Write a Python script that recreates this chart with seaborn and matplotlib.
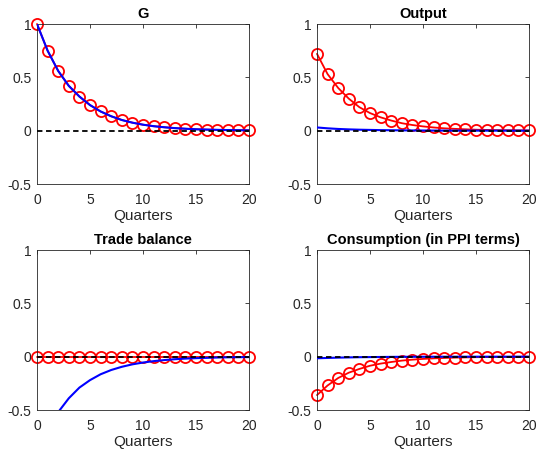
import numpy as np
import pandas as pd
import matplotlib
matplotlib.use('Agg')
import matplotlib.pyplot as plt
import seaborn as sns

sns.set_style('white')
plt.rcParams['font.family'] = ['Liberation Sans', 'DejaVu Sans']

quarters = list(range(21))

# G
g_red = [1.0, 0.75, 0.56, 0.42, 0.32, 0.24, 0.18, 0.135, 0.10, 0.075, 0.056,
         0.042, 0.032, 0.024, 0.018, 0.013, 0.010, 0.0075, 0.0056, 0.0042, 0.003]
g_blue = [1.0, 0.75, 0.56, 0.42, 0.32, 0.24, 0.18, 0.135, 0.10, 0.075, 0.056,
          0.042, 0.032, 0.024, 0.018, 0.013, 0.010, 0.0075, 0.0056, 0.0042, 0.003]

# Output
y_red = [0.72, 0.53, 0.40, 0.30, 0.22, 0.165, 0.125, 0.095, 0.07, 0.053, 0.04,
         0.03, 0.022, 0.017, 0.013, 0.009, 0.007, 0.005, 0.004, 0.003, 0.002]
y_blue = [0.03, 0.022, 0.016, 0.012, 0.009, 0.007, 0.005, 0.004, 0.003, 0.002, 0.0015,
          0.001, 0.0008, 0.0006, 0.0004, 0.0003, 0.0002, 0.0002, 0.0001, 0.0001, 0.0001]

# Trade balance
tb_red = [0.0] * 21
tb_blue = [-0.90, -0.68, -0.52, -0.39, -0.29, -0.22, -0.165, -0.125, -0.095, -0.072, -0.055,
           -0.042, -0.032, -0.024, -0.018, -0.014, -0.011, -0.008, -0.006, -0.005, -0.004]

# Consumption
c_red = [-0.36, -0.27, -0.20, -0.15, -0.115, -0.085, -0.065, -0.05, -0.037, -0.028, -0.021,
         -0.016, -0.012, -0.009, -0.007, -0.005, -0.004, -0.003, -0.002, -0.0015, -0.001]
c_blue = [-0.015, -0.012, -0.009, -0.007, -0.005, -0.004, -0.003, -0.002, -0.0015, -0.001, -0.0008,
          -0.0006, -0.0004, -0.0003, -0.0002, -0.0002, -0.0001, -0.0001, -0.0001, 0.0, 0.0]

titles = ['G', 'Output', 'Trade balance', 'Consumption (in PPI terms)']
reds = [g_red, y_red, tb_red, c_red]
blues = [g_blue, y_blue, tb_blue, c_blue]

fig = plt.figure(figsize=(5.38, 4.51), dpi=100)
W, H = 538, 451
boxes = [(37, 24, 249, 184), (317, 24, 529, 184),
         (37, 250, 249, 410), (317, 250, 529, 410)]

edge = '#262626'
for (x0, y0, x1, y1), title, red, blue in zip(boxes, titles, reds, blues):
    ax = fig.add_axes([x0 / W, 1 - y1 / H, (x1 - x0) / W, (y1 - y0) / H])
    df = pd.DataFrame({'q': quarters, 'red': red, 'blue': blue, 'zero': [0.0] * 21})
    sns.lineplot(data=df, x='q', y='red', ax=ax, color='red', linewidth=1.3,
                 marker='o', markersize=8, markerfacecolor='none',
                 markeredgecolor='red', markeredgewidth=1.3, zorder=2)
    ax.lines[-1].set_clip_on(False)
    sns.lineplot(data=df, x='q', y='blue', ax=ax, color='blue', linewidth=1.5, zorder=3)
    sns.lineplot(data=df, x='q', y='zero', ax=ax, color='black', linewidth=1.3,
                 linestyle='--', zorder=4)
    ax.lines[-1].set_dashes((3, 2))
    ax.set_xlim(0, 20)
    ax.set_ylim(-0.5, 1)
    ax.set_xticks([0, 5, 10, 15, 20])
    ax.set_yticks([-0.5, 0, 0.5, 1])
    ax.set_yticklabels(['-0.5', '0', '0.5', '1'])
    ax.set_title(title, fontsize=10.5, fontweight='bold', pad=4, color='black')
    ax.set_xlabel('Quarters', fontsize=11, color='#262626', labelpad=1.5)
    ax.set_ylabel('')
    ax.tick_params(direction='in', length=3, width=0.6, top=True, right=True,
                   labelsize=10, labelcolor='#262626', color=edge)
    ax.tick_params(axis='x', pad=6.5)
    ax.tick_params(axis='y', pad=4)
    for s in ax.spines.values():
        s.set_color(edge)
        s.set_linewidth(0.6)

fig.savefig('out.png', dpi=100)
